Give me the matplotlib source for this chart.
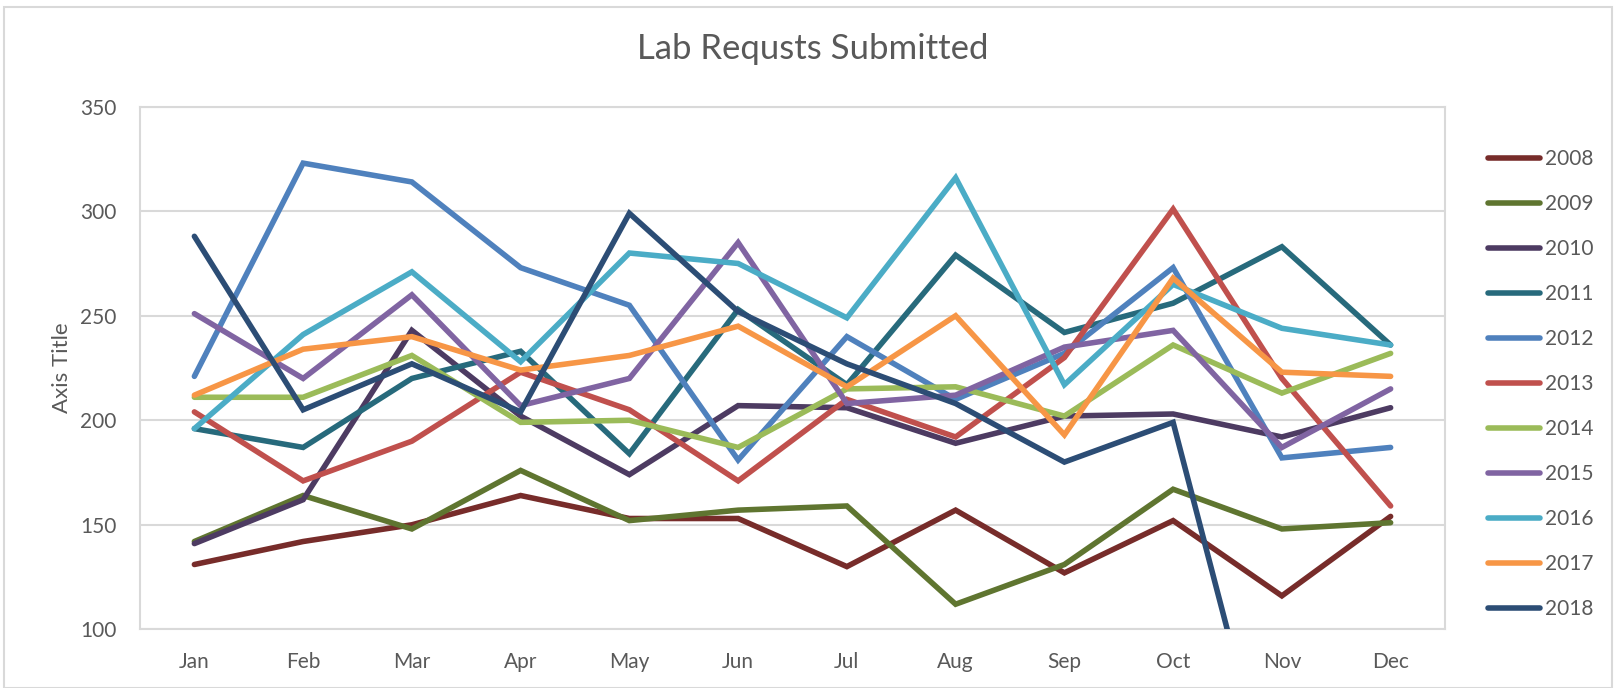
import matplotlib
matplotlib.use("Agg")
import matplotlib.pyplot as plt
from matplotlib.patches import Rectangle

# data
months = ['Jan', 'Feb', 'Mar', 'Apr', 'May', 'Jun', 'Jul', 'Aug', 'Sep', 'Oct', 'Nov', 'Dec']
years = ['2008', '2009', '2010', '2011', '2012', '2013', '2014', '2015', '2016', '2017', '2018']

y2008 = [131, 142, 150, 164, 153, 153, 130, 157, 127, 152, 116, 154]
y2009 = [142, 164, 148, 176, 152, 157, 159, 112, 131, 167, 148, 151]
y2010 = [141, 162, 243, 202, 174, 207, 206, 189, 202, 203, 192, 206]
y2011 = [196, 187, 220, 233, 184, 253, 217, 279, 242, 256, 283, 236]
y2012 = [221, 323, 314, 273, 255, 181, 240, 210, 232, 273, 182, 187]
y2013 = [204, 171, 190, 223, 205, 171, 210, 192, 230, 301, 220, 159]
y2014 = [211, 211, 231, 199, 200, 187, 215, 216, 202, 236, 213, 232]
y2015 = [251, 220, 260, 207, 220, 285, 208, 212, 235, 243, 187, 215]
y2016 = [196, 241, 271, 228, 280, 275, 249, 316, 217, 265, 244, 236]
y2017 = [212, 234, 240, 224, 231, 245, 216, 250, 193, 268, 223, 221]
y2018 = [288, 205, 227, 204, 299, 252, 227, 208, 180, 199, 0, 0]

series = [y2008, y2009, y2010, y2011, y2012, y2013, y2014, y2015, y2016, y2017, y2018]
colors = ['#772C2A', '#5F7530', '#4D3B62', '#276A7C', '#4F81BD', '#C0504D',
          '#9BBB59', '#8064A2', '#4BACC6', '#F79646', '#2C4D75']

txt = '#595959'
grid = '#D9D9D9'
plt.rcParams['font.family'] = ['Lato', 'DejaVu Sans']

fig = plt.figure(figsize=(16.14, 6.88), dpi=100)
ax = fig.add_axes([140 / 1614, 1 - 629.3 / 688, 1305 / 1614, 522.6 / 688])

x = list(range(len(months)))
for vals, c, lab in zip(series, colors, years):
    ax.plot(x, vals, color=c, lw=4, label=lab, solid_capstyle='round',
            solid_joinstyle='miter', zorder=3)

ax.set_xlim(-0.5, 11.5)
ax.set_ylim(100, 350)
ax.set_yticks([100, 150, 200, 250, 300, 350])
ax.set_xticks(x)
ax.set_xticklabels(months)
ax.tick_params(length=0, labelsize=15, colors=txt, pad=16)
ax.tick_params(axis='y', pad=17)
ax.yaxis.grid(True, color=grid, lw=1.5, zorder=0)
for s in ax.spines.values():
    s.set_color(grid)
    s.set_linewidth(1.5)

ax.set_ylabel('Axis Title', fontsize=16, color=txt, labelpad=6)
fig.text(813 / 1614, 1 - 49 / 688, 'Lab Requsts Submitted', fontsize=25,
         color=txt, ha='center', va='center')

leg = ax.legend(loc='upper left', bbox_to_anchor=(1488 / 1614, 1 - 149 / 688),
                bbox_transform=fig.transFigure, frameon=False, fontsize=15,
                handlelength=2.5, handletextpad=0.25, labelspacing=1.2,
                borderaxespad=0, borderpad=0)
for t in leg.get_texts():
    t.set_color(txt)

# outer chart border
fig.patches.append(Rectangle((4 / 1614, 0), 1 - 6 / 1614, 1 - 7 / 688,
                             transform=fig.transFigure, fill=False,
                             edgecolor=grid, lw=1.5))

fig.savefig('out.png', dpi=100)
